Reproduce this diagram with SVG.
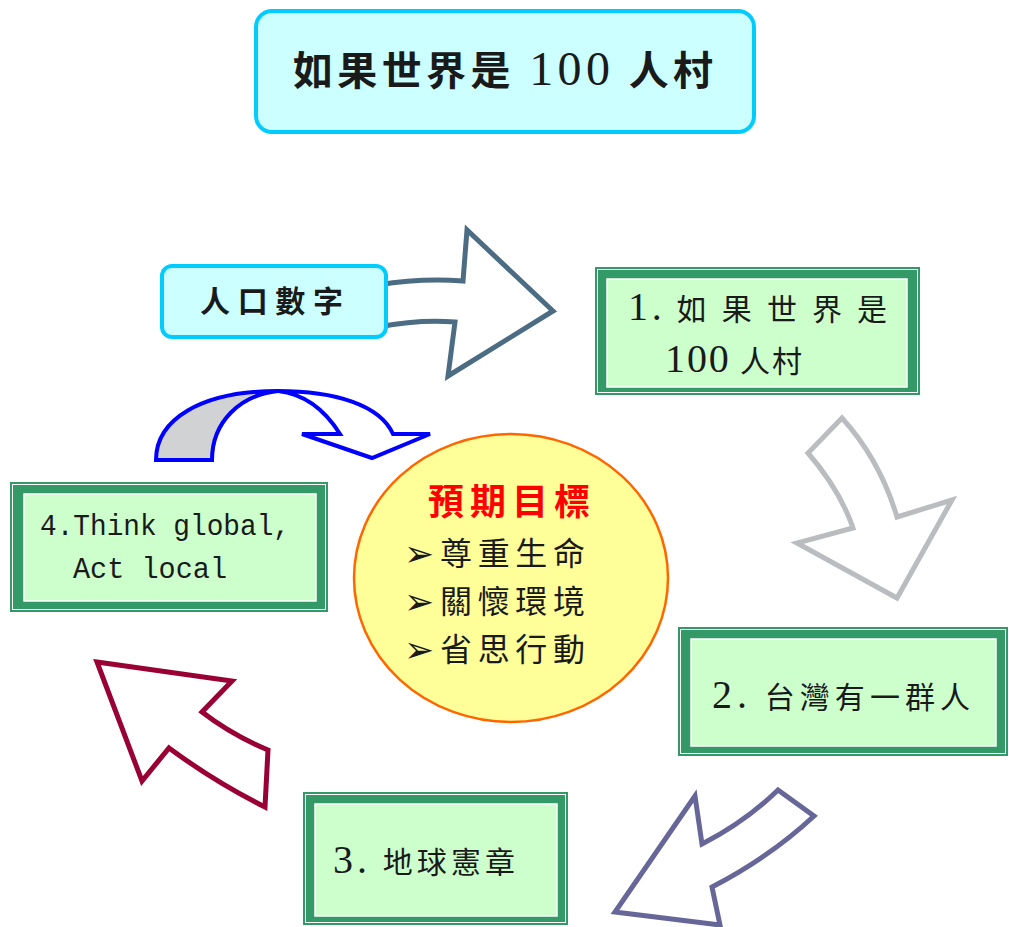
<svg xmlns="http://www.w3.org/2000/svg" width="1009" height="927" viewBox="0 0 1009 927">
<style>
.cyan{fill:#CCFFFF;stroke:#00CCFF;stroke-width:4}
.frame{fill:#339966}
.thin{fill:none;stroke:#FFFFFF;stroke-width:1}
.pane{fill:#CCFFCC;stroke:#FFFFFF;stroke-width:1.5}
.t{font-family:'Liberation Serif','Noto Sans CJK TC',serif;fill:#1a1a1a}
.m{font-family:'Liberation Mono','Noto Sans CJK TC',monospace;fill:#1a1a1a}
.arr{fill:#FFFFFF;stroke-width:5;stroke-linejoin:miter}
</style>
<rect width="1009" height="927" fill="#FFFFFF"/>

<g id="connectors">
  <path class="arr" stroke="#4B6C82" d="M378,285 Q420,278 463,281 L467,230 L553,311 L448,376 L455,322 Q420,319 378,327 Z"/>
  <path class="arr" stroke="#BBBCC0" d="M842,418 L808,453 Q840,490 853,528 L797,543 L897,598 L952,500 L897,517 Q880,460 842,418 Z"/>
  <path class="arr" stroke="#666699" d="M695,796 L702,844 Q745,822 778,790 L814,816 Q770,857 712,887 L720,925 L615,912 Z"/>
  <path class="arr" stroke="#990033" d="M97,662 L232,681 L202,712 Q232,735 268,750 L265,807 Q215,782 169,748 L142,781 Z"/>
  <g stroke="#0000FF" stroke-width="4" stroke-linejoin="miter">
    <path fill="#D1D2D4" d="M156,460 C156,420 200,391 278,391 C240,395 212,422 212,460 Z"/>
    <path fill="#FFFFFF" d="M278,391 C335,391 380,405 393,434 L430,434 L372,458 L302,434 L340,434 C325,410 305,394 278,391 Z"/>
  </g>
</g>

<g id="title">
  <rect class="cyan" x="256" y="11" width="498" height="121" rx="16"/>
  <text class="t" x="293" y="85" font-size="40" font-weight="bold" textLength="420" lengthAdjust="spacing">如果世界是 <tspan font-size="48" font-weight="normal">100</tspan> 人村</text>
</g>

<g id="population">
  <rect class="cyan" x="162" y="266" width="224" height="71" rx="10"/>
  <text class="t" x="200" y="312" font-size="30" font-weight="bold" textLength="143" lengthAdjust="spacing">人口數字</text>
</g>

<g id="step1">
  <rect class="frame" x="595" y="267" width="325" height="128"/>
  <rect class="thin" x="597.5" y="269.5" width="320" height="123"/>
  <rect class="pane" x="607" y="279" width="300" height="108"/>
  <text class="t" x="628" y="320" font-size="30" textLength="259" lengthAdjust="spacing"><tspan font-size="40">1.</tspan> 如 果 世 界 是</text>
  <text class="t" x="665" y="372" font-size="30" textLength="137" lengthAdjust="spacing"><tspan font-size="40">100</tspan> 人村</text>
</g>

<g id="step2">
  <rect class="frame" x="678" y="627" width="330" height="129"/>
  <rect class="thin" x="680.5" y="629.5" width="325" height="124"/>
  <rect class="pane" x="691" y="639" width="305" height="107"/>
  <text class="t" x="712" y="708" font-size="30" textLength="258" lengthAdjust="spacing"><tspan font-size="40">2.</tspan> 台灣有一群人</text>
</g>

<g id="step3">
  <rect class="frame" x="303" y="792" width="265" height="133"/>
  <rect class="thin" x="305.5" y="794.5" width="260" height="128"/>
  <rect class="pane" x="315" y="804" width="242" height="112"/>
  <text class="t" x="333" y="873" font-size="30" textLength="182" lengthAdjust="spacing"><tspan font-size="40">3.</tspan> 地球憲章</text>
</g>

<g id="step4">
  <rect class="frame" x="10" y="482" width="318" height="130"/>
  <rect class="thin" x="12.5" y="484.5" width="313" height="125"/>
  <rect class="pane" x="24" y="494" width="292" height="107"/>
  <text class="m" x="40" y="535" font-size="30" textLength="250" lengthAdjust="spacingAndGlyphs">4.Think global,</text>
  <text class="m" x="73" y="578" font-size="30" textLength="154" lengthAdjust="spacingAndGlyphs">Act local</text>
</g>

<g id="goals">
  <ellipse cx="511" cy="578" rx="157" ry="144" fill="#FFFF99" stroke="#FF6600" stroke-width="2.5"/>
  <text x="428" y="515" font-family="'Noto Sans CJK TC',sans-serif" font-size="36" font-weight="bold" fill="#FF0000" textLength="162" lengthAdjust="spacing">預期目標</text>
  <g font-family="'DejaVu Sans',sans-serif" font-size="36" fill="#1a1a1a">
    <text x="404" y="566">➢</text>
    <text x="404" y="614">➢</text>
    <text x="404" y="662">➢</text>
  </g>
  <text class="t" x="440" y="565" font-size="32" textLength="145" lengthAdjust="spacing">尊重生命</text>
  <text class="t" x="440" y="613" font-size="32" textLength="145" lengthAdjust="spacing">關懷環境</text>
  <text class="t" x="440" y="661" font-size="32" textLength="145" lengthAdjust="spacing">省思行動</text>
</g>
</svg>
